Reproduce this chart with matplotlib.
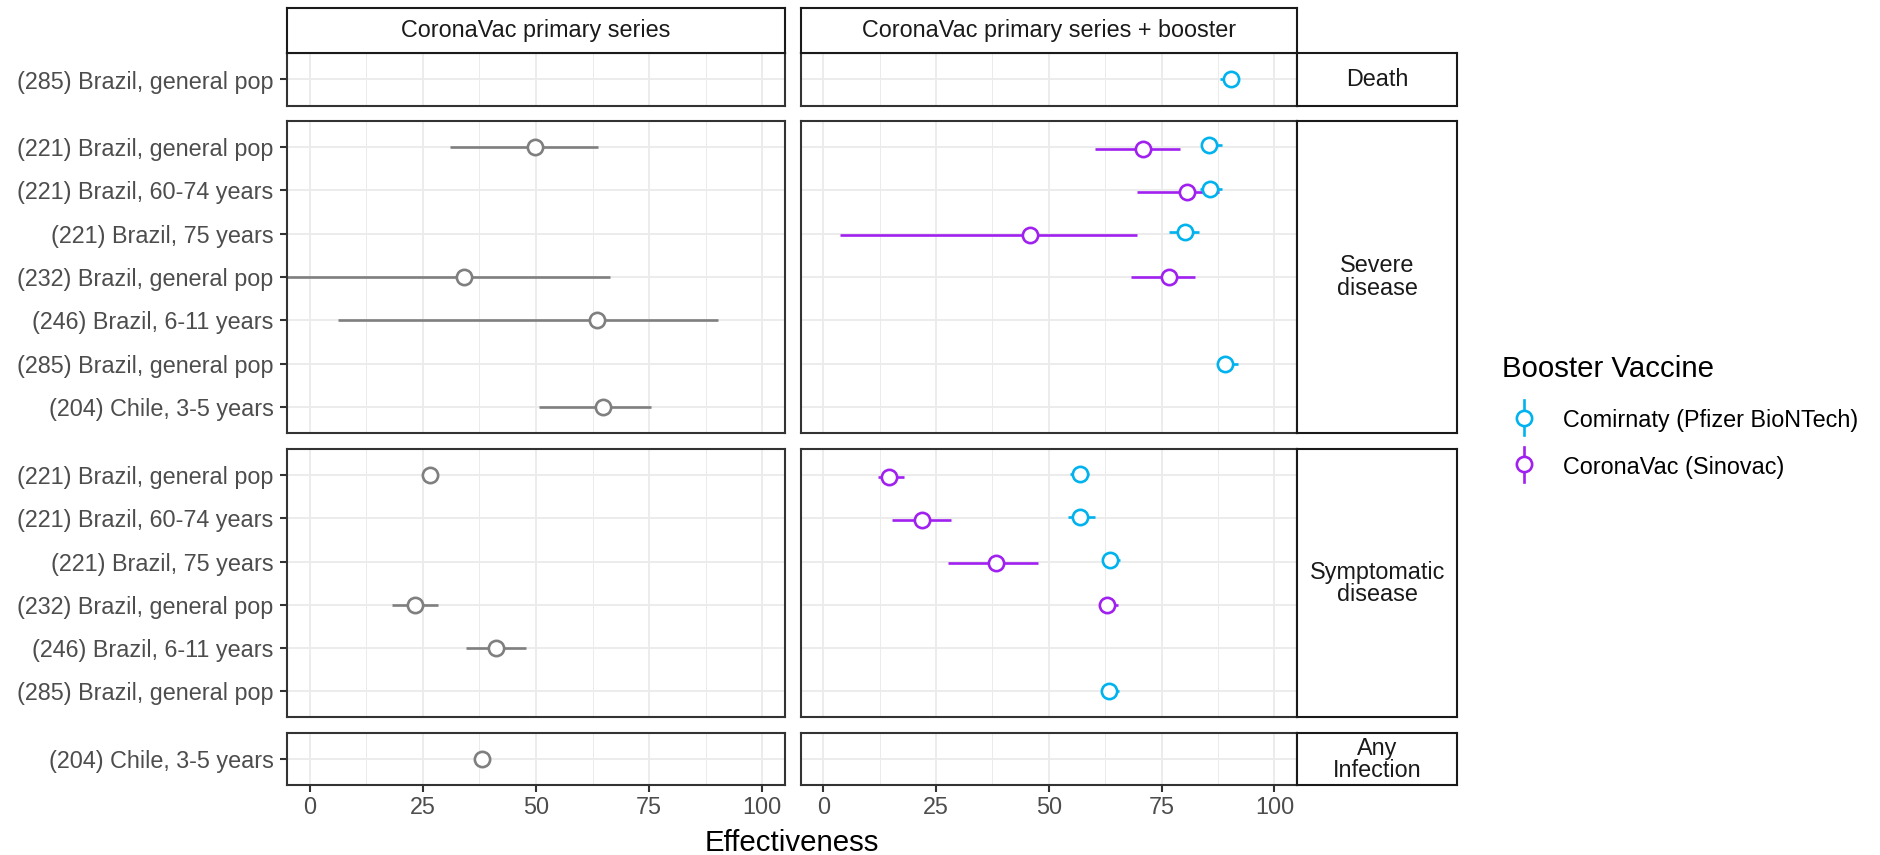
import matplotlib
matplotlib.use("Agg")
import matplotlib.pyplot as plt
from matplotlib.lines import Line2D

plt.rcParams['font.family'] = ['Liberation Sans', 'DejaVu Sans']

# ---------------- data ----------------
outcomes = ["Death", "Severe\ndisease", "Symptomatic\ndisease", "Any\nInfection"]
death_rows = ["(285) Brazil, general pop"]
severe_rows = ["(221) Brazil, general pop", "(221) Brazil, 60-74 years", "(221) Brazil, 75 years",
               "(232) Brazil, general pop", "(246) Brazil, 6-11 years", "(285) Brazil, general pop",
               "(204) Chile, 3-5 years"]
symptomatic_rows = ["(221) Brazil, general pop", "(221) Brazil, 60-74 years", "(221) Brazil, 75 years",
                    "(232) Brazil, general pop", "(246) Brazil, 6-11 years", "(285) Brazil, general pop"]
infection_rows = ["(204) Chile, 3-5 years"]

series = ["CoronaVac primary series", "CoronaVac primary series + booster"]

# primary series (grey)
prim_outcome = ["Severe\ndisease", "Severe\ndisease", "Severe\ndisease", "Severe\ndisease",
                "Symptomatic\ndisease", "Symptomatic\ndisease", "Symptomatic\ndisease", "Any\nInfection"]
prim_study = ["(221) Brazil, general pop", "(232) Brazil, general pop", "(246) Brazil, 6-11 years",
              "(204) Chile, 3-5 years", "(221) Brazil, general pop", "(232) Brazil, general pop",
              "(246) Brazil, 6-11 years", "(204) Chile, 3-5 years"]
prim_est = [49.7, 34.2, 63.5, 64.8, 26.6, 23.3, 41.2, 38.0]
prim_lo = [30.9, -10.0, 6.2, 50.7, 25.2, 18.3, 34.5, 36.5]
prim_hi = [63.8, 66.3, 90.2, 75.5, 28.0, 28.4, 47.8, 39.7]

# booster
boost_outcome = ["Death",
                 "Severe\ndisease", "Severe\ndisease", "Severe\ndisease", "Severe\ndisease",
                 "Severe\ndisease", "Severe\ndisease", "Severe\ndisease", "Severe\ndisease",
                 "Symptomatic\ndisease", "Symptomatic\ndisease", "Symptomatic\ndisease",
                 "Symptomatic\ndisease", "Symptomatic\ndisease", "Symptomatic\ndisease",
                 "Symptomatic\ndisease", "Symptomatic\ndisease"]
boost_study = ["(285) Brazil, general pop",
               "(221) Brazil, general pop", "(221) Brazil, general pop",
               "(221) Brazil, 60-74 years", "(221) Brazil, 60-74 years",
               "(221) Brazil, 75 years", "(221) Brazil, 75 years",
               "(232) Brazil, general pop", "(285) Brazil, general pop",
               "(221) Brazil, general pop", "(221) Brazil, general pop",
               "(221) Brazil, 60-74 years", "(221) Brazil, 60-74 years",
               "(221) Brazil, 75 years", "(221) Brazil, 75 years",
               "(232) Brazil, general pop", "(285) Brazil, general pop"]
boost_vaccine = ["Comirnaty (Pfizer BioNTech)",
                 "Comirnaty (Pfizer BioNTech)", "CoronaVac (Sinovac)",
                 "Comirnaty (Pfizer BioNTech)", "CoronaVac (Sinovac)",
                 "Comirnaty (Pfizer BioNTech)", "CoronaVac (Sinovac)",
                 "CoronaVac (Sinovac)", "Comirnaty (Pfizer BioNTech)",
                 "Comirnaty (Pfizer BioNTech)", "CoronaVac (Sinovac)",
                 "Comirnaty (Pfizer BioNTech)", "CoronaVac (Sinovac)",
                 "Comirnaty (Pfizer BioNTech)", "CoronaVac (Sinovac)",
                 "CoronaVac (Sinovac)", "Comirnaty (Pfizer BioNTech)"]
boost_est = [90.3, 85.6, 70.8, 85.8, 80.7, 80.1, 45.8, 76.6, 89.0,
             57.0, 14.6, 57.0, 21.8, 63.6, 38.3, 62.8, 63.3]
boost_lo = [88.0, 83.9, 60.3, 83.4, 69.5, 76.6, 3.7, 68.1, 87.7,
            54.6, 12.1, 54.2, 15.2, 61.9, 27.7, 61.2, 62.0]
boost_hi = [91.8, 88.4, 79.0, 88.4, 87.7, 83.2, 69.6, 82.4, 91.9,
            59.0, 17.8, 60.2, 28.3, 65.8, 47.7, 65.4, 65.5]

vaccines = ["Comirnaty (Pfizer BioNTech)", "CoronaVac (Sinovac)"]
vaccine_colors = {"Comirnaty (Pfizer BioNTech)": "#00B2EE", "CoronaVac (Sinovac)": "#A020F0"}
prim_color = "#7F7F7F"

rows_by_outcome = {"Death": death_rows, "Severe\ndisease": severe_rows,
                   "Symptomatic\ndisease": symptomatic_rows, "Any\nInfection": infection_rows}

# ---------------- layout ----------------
W, H = 1881, 855
fig = plt.figure(figsize=(W / 100, H / 100), dpi=100)


def add_ax(x0, y0, x1, y1):
    return fig.add_axes([x0 / W, 1 - y1 / H, (x1 - x0) / W, (y1 - y0) / H])


col_x = [(287, 785), (800.7, 1297)]
row_y = [(53.3, 105.7), (121, 433), (449.3, 717.3), (733.3, 785)]
strip_top = (8.3, 53.3)
strip_right = (1297, 1457.3)

grid_c = "#EBEBEB"
border_c = "#333333"
tick_text_c = "#4D4D4D"
small_fs = 16.8
big_fs = 21.2
lw_err = 1.9
ms = 11.0
mew = 1.9
dodge = 0.035

for ri, outc in enumerate(outcomes):
    rows = rows_by_outcome[outc]
    n = len(rows)
    for ci, ser in enumerate(series):
        ax = add_ax(col_x[ci][0], row_y[ri][0], col_x[ci][1], row_y[ri][1])
        ax.set_xlim(-5, 105)
        ax.set_ylim(n - 1 + 0.6, -0.6)
        ax.set_xticks([0, 25, 50, 75, 100])
        ax.set_xticks([12.5, 37.5, 62.5, 87.5], minor=True)
        ax.set_yticks(range(n))
        ax.set_axisbelow(True)
        ax.grid(which='major', color=grid_c, lw=1.3)
        ax.grid(which='minor', axis='x', color=grid_c, lw=0.7)
        ax.tick_params(which='minor', length=0)
        for sp in ax.spines.values():
            sp.set_color(border_c)
            sp.set_linewidth(1.5)
        # y ticks
        if ci == 0:
            ax.set_yticklabels(rows)
            ax.tick_params(axis='y', length=5.3, width=1.5, color=border_c,
                           labelsize=small_fs, labelcolor=tick_text_c, pad=4.5)
        else:
            ax.set_yticklabels([])
            ax.tick_params(axis='y', length=0)
        # x ticks
        if ri == len(outcomes) - 1:
            ax.set_xticklabels(["0", "25", "50", "75", "100"])
            ax.tick_params(axis='x', length=5.3, width=1.5, color=border_c,
                           labelsize=small_fs, labelcolor=tick_text_c, pad=2.5)
        else:
            ax.set_xticklabels([])
            ax.tick_params(axis='x', length=0)

        if ci == 0:
            idx = [i for i in range(len(prim_est)) if prim_outcome[i] == outc]
            for i in idx:
                y = rows.index(prim_study[i])
                ax.hlines(y, prim_lo[i], prim_hi[i], color=prim_color, lw=lw_err, zorder=2)
            for i in idx:
                y = rows.index(prim_study[i])
                ax.plot(prim_est[i], y, 'o', mfc='white', mec=prim_color, ms=ms, mew=mew, zorder=3)
        else:
            idx = [i for i in range(len(boost_est)) if boost_outcome[i] == outc]
            ypos = {}
            for i in idx:
                same = [j for j in idx if boost_study[j] == boost_study[i]]
                y = rows.index(boost_study[i])
                if len(same) > 1:
                    y += -dodge if boost_vaccine[i] == vaccines[0] else dodge
                ypos[i] = y
            order = sorted(idx, key=lambda k: vaccines.index(boost_vaccine[k]), reverse=True)
            for i in order:
                ax.hlines(ypos[i], boost_lo[i], boost_hi[i], color=vaccine_colors[boost_vaccine[i]],
                          lw=lw_err, zorder=2)
            for i in order:
                ax.plot(boost_est[i], ypos[i], 'o', mfc='white', mec=vaccine_colors[boost_vaccine[i]],
                        ms=ms, mew=mew, zorder=3)

# top strips
for ci, ser in enumerate(series):
    sax = add_ax(col_x[ci][0], strip_top[0], col_x[ci][1], strip_top[1])
    sax.set_xticks([]); sax.set_yticks([])
    for sp in sax.spines.values():
        sp.set_color("#1A1A1A"); sp.set_linewidth(1.5)
    sax.text(0.5, 0.5, ser, ha='center', va='center', fontsize=small_fs, color="#1A1A1A",
             transform=sax.transAxes)

# right strips
for ri, outc in enumerate(outcomes):
    sax = add_ax(strip_right[0], row_y[ri][0], strip_right[1], row_y[ri][1])
    sax.set_xticks([]); sax.set_yticks([])
    for sp in sax.spines.values():
        sp.set_color("#1A1A1A"); sp.set_linewidth(1.5)
    sax.text(0.5, 0.5, outc, ha='center', va='center', fontsize=small_fs, color="#1A1A1A",
             linespacing=0.95, transform=sax.transAxes)

# x label
fig.text(792 / W, 1 - 851 / H, "Effectiveness", ha='center', va='baseline', fontsize=big_fs,
         color='black')

# legend (drawn in a pixel-coordinate overlay)
lax = fig.add_axes([0, 0, 1, 1])
lax.set_xlim(0, W); lax.set_ylim(H, 0); lax.axis('off')
lax.text(1501.7, 377, "Booster Vaccine", ha='left', va='baseline', fontsize=big_fs, color='black')
key_y = [417.7, 464.0]
for k, vac in enumerate(vaccines):
    c = vaccine_colors[vac]
    lax.add_line(Line2D([1524, 1524], [key_y[k] - 17.5, key_y[k] + 17.5], color=c, lw=lw_err))
    lax.plot(1524, key_y[k], 'o', mfc='white', mec=c, ms=ms, mew=mew)
    lax.text(1562.7, key_y[k] + 9.5, vac, ha='left', va='baseline', fontsize=small_fs, color='black')

fig.savefig("out.png", dpi=100)
